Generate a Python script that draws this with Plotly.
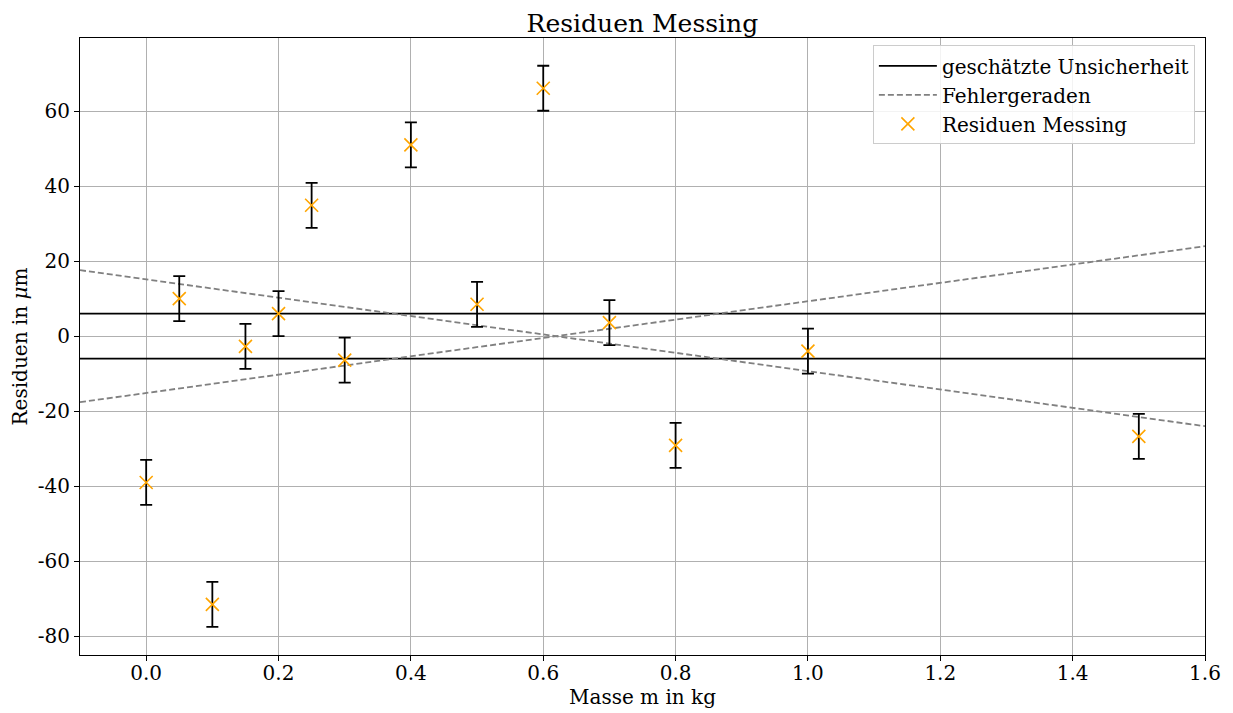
import plotly.graph_objects as go

# Messwerte: Masse (kg) und Residuen (µm)
masse = [0.0, 0.05, 0.1, 0.15, 0.2, 0.25, 0.3, 0.4, 0.5, 0.6, 0.7, 0.8, 1.0, 1.5]
residuen = [-39.0, 10.0, -71.5, -2.7, 6.0, 34.9, -6.4, 51.0, 8.5, 66.1, 3.6, -29.1, -4.0, -26.7]
fehler = [6.0] * len(masse)

# geschätzte Unsicherheit (± Band)
unsicherheit = 6.0

# Fehlergeraden: Endpunkte auf dem sichtbaren Bereich
gerade_x = [-0.1, 1.6]
gerade_auf = [-17.6, 24.0]
gerade_ab = [17.6, -24.0]

x_ticks = [0.0, 0.2, 0.4, 0.6, 0.8, 1.0, 1.2, 1.4, 1.6]
y_ticks = [-80, -60, -40, -20, 0, 20, 40, 60]
y_ticktext = [str(v) for v in y_ticks]

FONT = "DejaVu Serif"

fig = go.Figure()

fig.add_trace(go.Scatter(
    x=gerade_x, y=[unsicherheit, unsicherheit], mode="lines",
    line=dict(color="black", width=1.8), name="geschätzte Unsicherheit",
    legendgroup="u"))
fig.add_trace(go.Scatter(
    x=gerade_x, y=[-unsicherheit, -unsicherheit], mode="lines",
    line=dict(color="black", width=1.8), showlegend=False, legendgroup="u"))

fig.add_trace(go.Scatter(
    x=gerade_x, y=gerade_auf, mode="lines",
    line=dict(color="gray", width=1.8, dash="6px,3px"), name="Fehlergeraden",
    legendgroup="f"))
fig.add_trace(go.Scatter(
    x=gerade_x, y=gerade_ab, mode="lines",
    line=dict(color="gray", width=1.8, dash="6px,3px"), showlegend=False,
    legendgroup="f"))

fig.add_trace(go.Scatter(
    x=masse, y=residuen, mode="markers", name="Residuen Messing",
    marker=dict(symbol="x-thin", size=13, color="orange",
                line=dict(color="orange", width=1.6)),
    error_y=dict(type="data", array=fehler, visible=True, color="black",
                 thickness=1.8, width=6)))

axis_common = dict(
    showline=True, linecolor="black", linewidth=1.2, mirror=True,
    ticks="outside", ticklen=5, tickcolor="black", tickwidth=1,
    showgrid=True, gridcolor="#b0b0b0", gridwidth=1, zeroline=False,
    automargin=False,
    tickfont=dict(family=FONT, size=20, color="black"),
)

fig.update_layout(
    width=1233, height=713,
    paper_bgcolor="white", plot_bgcolor="white",
    margin=dict(l=80, r=28, t=38, b=58),
    title=dict(text="Residuen Messing", x=0.521, xanchor="center",
               y=0.968, yanchor="middle",
               font=dict(family=FONT, size=25, color="black")),
    xaxis=dict(range=[-0.1, 1.6], tickvals=x_ticks,
               ticktext=[f"{v:.1f}" for v in x_ticks],
               ticklabelstandoff=-5,
               title=dict(text="Masse m in kg", standoff=2,
                          font=dict(family=FONT, size=20, color="black")),
               **axis_common),
    yaxis=dict(range=[-85, 79.5], tickvals=y_ticks, ticktext=y_ticktext,
               title=dict(text="Residuen in <i>μ</i>m", standoff=4,
                          font=dict(family=FONT, size=20, color="black")),
               **axis_common),
    legend=dict(x=0.991, y=0.988, xanchor="right", yanchor="top",
                bgcolor="rgba(255,255,255,0.85)", bordercolor="#cccccc",
                borderwidth=1, font=dict(family=FONT, size=20, color="black"),
                itemwidth=58, tracegroupgap=0),
    showlegend=True,
)

fig.write_html("out.html")
